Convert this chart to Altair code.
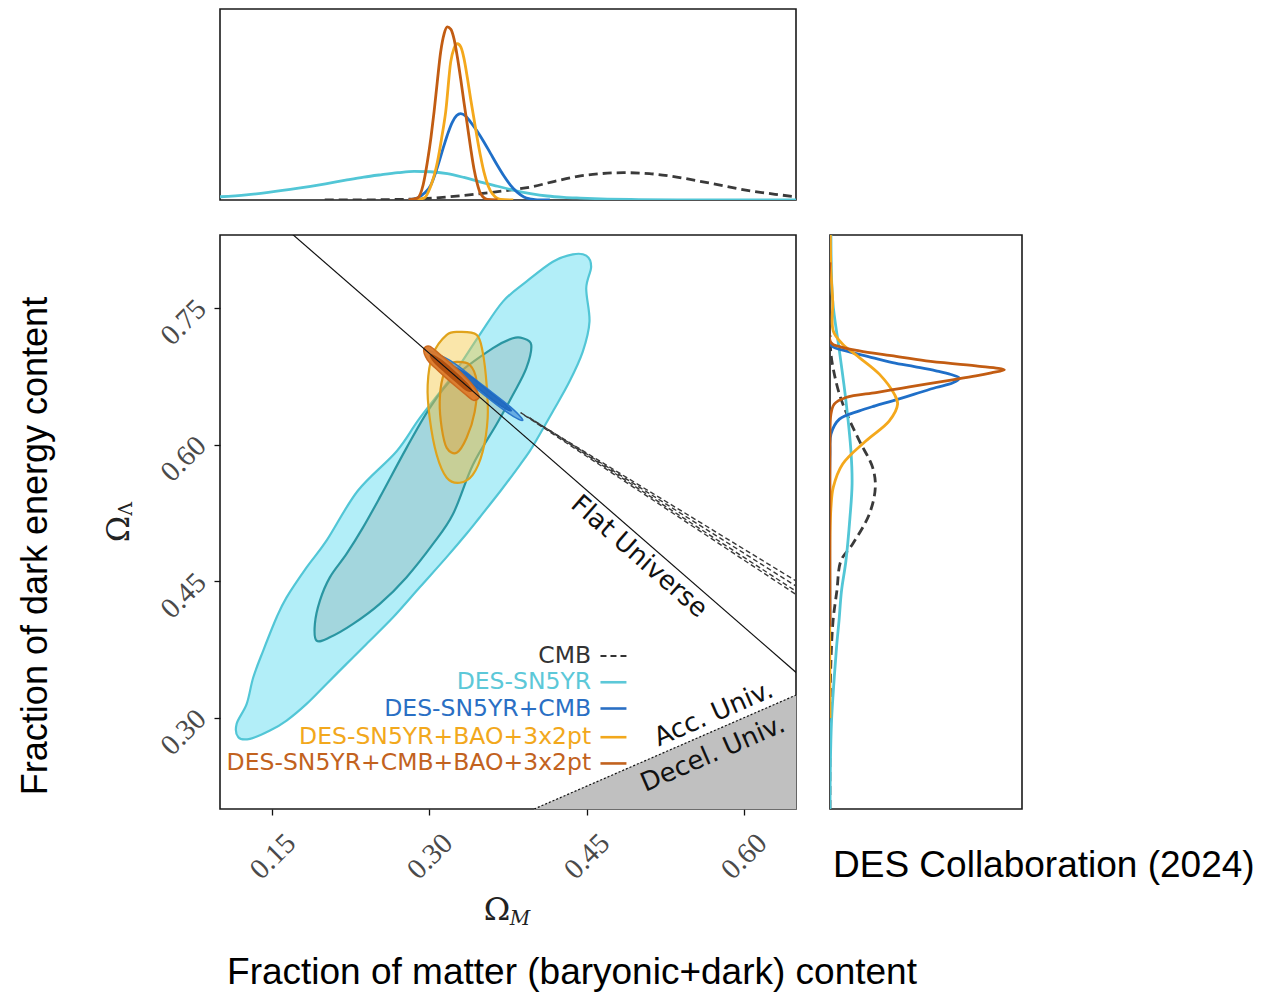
import altair as alt
import pandas as pd

# ------------------------------------------------------------------ data
X_TICKS = [0.15, 0.30, 0.45, 0.60]
Y_TICKS = [0.30, 0.45, 0.60, 0.75]
X_DOMAIN = [0.10, 0.65]
Y_DOMAIN = [0.20, 0.83]

# DES-SN5YR contours (Omega_M, Omega_Lambda)
SN_OUTER = [(0.4178, 0.8007), (0.4369, 0.8088), (0.4497, 0.8073), (0.4544, 0.7952), (0.4497, 0.7716),
            (0.4528, 0.7349), (0.4464, 0.7020), (0.4337, 0.6691), (0.4178, 0.6363), (0.4051, 0.6107),
            (0.3956, 0.5924), (0.3823, 0.5712), (0.3680, 0.5493), (0.3479, 0.5200), (0.3352, 0.5018),
            (0.3162, 0.4762), (0.2907, 0.4433), (0.2653, 0.4104), (0.2399, 0.3812), (0.2208, 0.3593),
            (0.2017, 0.3373), (0.1827, 0.3154), (0.1636, 0.2971), (0.1477, 0.2861), (0.1286, 0.2770),
            (0.1175, 0.2788), (0.1159, 0.2935), (0.1255, 0.3154), (0.1318, 0.3446), (0.1413, 0.3739),
            (0.1541, 0.4104), (0.1636, 0.4323), (0.1827, 0.4652), (0.2017, 0.4945), (0.2316, 0.5493),
            (0.2685, 0.5924), (0.2907, 0.6290), (0.3225, 0.6765), (0.3479, 0.7204), (0.3701, 0.7569),
            (0.3925, 0.7788)]
SN_INNER = [(0.3892, 0.7167), (0.3972, 0.7094), (0.3925, 0.6838), (0.3797, 0.6546), (0.3638, 0.6217),
            (0.3415, 0.5778), (0.3225, 0.5237), (0.3034, 0.4909), (0.2780, 0.4542), (0.2526, 0.4251),
            (0.2271, 0.4031), (0.2049, 0.3884), (0.1922, 0.3848), (0.1906, 0.4031), (0.1954, 0.4287),
            (0.2049, 0.4542), (0.2208, 0.4799), (0.2366, 0.5091), (0.2526, 0.5420), (0.2780, 0.5961),
            (0.3002, 0.6400), (0.3225, 0.6729), (0.3606, 0.7058), (0.3797, 0.7167)]
# DES-SN5YR+BAO+3x2pt
BAO_OUTER = [(0.3289, 0.7236), (0.3451, 0.7204), (0.3508, 0.7017), (0.3546, 0.6655), (0.3556, 0.6293),
             (0.3508, 0.5921), (0.3413, 0.5668), (0.3289, 0.5581), (0.3165, 0.5636), (0.3069, 0.5888),
             (0.3002, 0.6293), (0.2983, 0.6655), (0.3031, 0.6984), (0.3165, 0.7204)]
BAO_INNER = [(0.3260, 0.6907), (0.3384, 0.6875), (0.3451, 0.6688), (0.3432, 0.6359), (0.3355, 0.6074),
             (0.3260, 0.5910), (0.3165, 0.5964), (0.3117, 0.6184), (0.3098, 0.6469), (0.3126, 0.6732),
             (0.3193, 0.6875)]
# DES-SN5YR+CMB
CMB_SN_OUTER = [(0.300, 0.703), (0.320, 0.692), (0.340, 0.675), (0.360, 0.657), (0.375, 0.6435),
                (0.385, 0.633), (0.389, 0.6265), (0.380, 0.631), (0.365, 0.643), (0.345, 0.661),
                (0.325, 0.679), (0.310, 0.692)]
CMB_SN_INNER = [(0.315, 0.690), (0.335, 0.678), (0.355, 0.660), (0.372, 0.6445), (0.378, 0.637),
                (0.365, 0.645), (0.345, 0.663), (0.325, 0.680)]
# DES-SN5YR+CMB+BAO+3x2pt
ALL_OUTER = [(0.2945, 0.7045), (0.300, 0.708), (0.310, 0.699), (0.320, 0.6895), (0.330, 0.679),
             (0.340, 0.667), (0.345, 0.659), (0.3475, 0.652), (0.342, 0.6485), (0.335, 0.6545),
             (0.325, 0.664), (0.315, 0.674), (0.305, 0.6845), (0.298, 0.693)]
ALL_INNER = [(0.301, 0.6985), (0.310, 0.6935), (0.320, 0.684), (0.330, 0.6735), (0.337, 0.6655),
             (0.3405, 0.659), (0.335, 0.660), (0.325, 0.6695), (0.315, 0.6795), (0.305, 0.690)]
# CMB only (dashed, extends beyond the frame)
CMB_OUTER = [(0.387, 0.635), (0.70, 0.4152), (0.70, 0.3976)]
CMB_INNER = [(0.396, 0.629), (0.70, 0.4084), (0.70, 0.4016)]

FLAT_LINE = [(0.10, 0.90), (0.70, 0.30)]
ACC_LINE = [(0.40, 0.20), (0.65, 0.325)]
DECEL_REGION = [(0.40, 0.20), (0.65, 0.325), (0.65, 0.20)]

# marginal of Omega_M (top panel)
TOP_SN_X = [0.10, 0.125, 0.1462, 0.175, 0.2008, 0.22, 0.2373, 0.2535, 0.2700, 0.2853, 0.3010, 0.3171,
            0.333, 0.3489, 0.365, 0.3806, 0.3965, 0.4125, 0.4283, 0.4442, 0.47, 0.50, 0.55, 0.65]
TOP_SN_D = [0.017, 0.027, 0.040, 0.062, 0.085, 0.104, 0.120, 0.132, 0.143, 0.150, 0.148, 0.138,
            0.118, 0.094, 0.072, 0.051, 0.034, 0.021, 0.014, 0.010, 0.005, 0.002, 0.0, 0.0]
TOP_ALL_X = [0.280, 0.2885, 0.294, 0.298, 0.3015, 0.3044, 0.3075, 0.3107, 0.3140, 0.3171, 0.3203,
             0.3234, 0.3266, 0.3298, 0.333, 0.3362, 0.3394, 0.3425, 0.3457, 0.3489, 0.3553, 0.365]
TOP_ALL_D = [0.0, 0.01, 0.08, 0.199, 0.33, 0.461, 0.62, 0.775, 0.87, 0.906, 0.895,
             0.845, 0.75, 0.635, 0.51, 0.391, 0.27, 0.164, 0.085, 0.033, 0.003, 0.0]
TOP_BAO_X = [0.285, 0.2948, 0.301, 0.3076, 0.3115, 0.3155, 0.3203, 0.3235, 0.3267, 0.330, 0.333,
             0.3362, 0.3393, 0.3425, 0.3457, 0.3489, 0.352, 0.356, 0.360, 0.368, 0.38]
TOP_BAO_D = [0.0, 0.01, 0.07, 0.199, 0.32, 0.461, 0.723, 0.795, 0.818, 0.80, 0.74,
             0.64, 0.53, 0.425, 0.321, 0.226, 0.147, 0.075, 0.033, 0.003, 0.0]
TOP_CMBSN_X = [0.280, 0.2885, 0.295, 0.3012, 0.3075, 0.3139, 0.318, 0.3219, 0.326, 0.3298, 0.3345,
               0.3393, 0.3456, 0.352, 0.3584, 0.3648, 0.371, 0.3775, 0.384, 0.3902, 0.397, 0.403, 0.415]
TOP_CMBSN_D = [0.0, 0.01, 0.035, 0.077, 0.17, 0.286, 0.355, 0.408, 0.442, 0.452, 0.44,
               0.408, 0.36, 0.304, 0.243, 0.182, 0.127, 0.077, 0.04, 0.016, 0.005, 0.0, 0.0]
TOP_CMB_X = [0.20, 0.2263, 0.26, 0.285, 0.3489, 0.3831, 0.3966, 0.4196, 0.4442, 0.456, 0.4852,
             0.51, 0.529, 0.5653, 0.602, 0.63, 0.65]
TOP_CMB_D = [0.0, 0.0, 0.002, 0.005, 0.033, 0.057, 0.068, 0.098, 0.126, 0.134, 0.143,
             0.138, 0.126, 0.091, 0.052, 0.030, 0.017]

# marginal of Omega_Lambda (right panel)
R_SN_Y = [0.83, 0.7576, 0.7028, 0.648, 0.5932, 0.557, 0.52, 0.4725, 0.4397, 0.4068, 0.38, 0.341, 0.297, 0.25, 0.20]
R_SN_D = [0.005, 0.014, 0.049, 0.083, 0.109, 0.115, 0.104, 0.083, 0.06, 0.047, 0.035, 0.021, 0.008, 0.002, 0.0]
R_ALL_Y = [0.80, 0.7119, 0.7075, 0.7028, 0.6975, 0.6918, 0.6864, 0.682, 0.6787, 0.6754, 0.6708,
           0.6663, 0.6617, 0.6571, 0.6516, 0.6444, 0.6337, 0.60, 0.40]
R_ALL_D = [0.0, 0.005, 0.05, 0.153, 0.32, 0.50, 0.76, 0.908, 0.84, 0.76, 0.63,
           0.50, 0.37, 0.24, 0.083, 0.022, 0.005, 0.0, 0.0]
R_CMBSN_Y = [0.78, 0.7102, 0.7028, 0.6965, 0.69, 0.6855, 0.6809, 0.6769, 0.6729, 0.6678, 0.6626,
             0.6553, 0.648, 0.6425, 0.637, 0.6279, 0.6115, 0.59, 0.40]
R_CMBSN_D = [0.0, 0.0, 0.083, 0.20, 0.326, 0.44, 0.552, 0.63, 0.674, 0.64, 0.552,
             0.44, 0.326, 0.235, 0.153, 0.049, 0.005, 0.0, 0.0]
R_BAO_Y = [0.83, 0.79, 0.7576, 0.7247, 0.7102, 0.6955, 0.6773, 0.6553, 0.6444, 0.626, 0.6041,
           0.5786, 0.553, 0.531, 0.50, 0.30]
R_BAO_D = [0.002, 0.005, 0.014, 0.017, 0.066, 0.153, 0.257, 0.335, 0.352, 0.309, 0.188,
           0.066, 0.017, 0.005, 0.0, 0.0]
R_CMB_Y = [0.72, 0.6992, 0.68, 0.6553, 0.63, 0.6041, 0.5749, 0.553, 0.5238, 0.4909, 0.4725,
           0.4397, 0.4068, 0.363, 0.30, 0.20]
R_CMB_D = [0.0, 0.005, 0.02, 0.049, 0.095, 0.153, 0.222, 0.236, 0.205, 0.118, 0.057,
           0.036, 0.016, 0.005, 0.0, 0.0]

LEGEND_LABELS = ["CMB", "DES-SN5YR", "DES-SN5YR+CMB", "DES-SN5YR+BAO+3x2pt", "DES-SN5YR+CMB+BAO+3x2pt"]
LEGEND_COLORS = ["#333333", "#5cc8d8", "#2a6fc4", "#f2a81c", "#c2621e"]
LEGEND_Y = [0.3678, 0.3391, 0.3103, 0.2788, 0.2500]
LEGEND_TEXT_X = 0.4544
LEGEND_LINE_X = [0.4633, 0.4881]

C_CYAN = "#52c6d6"
C_BLUE = "#1f6fc8"
C_YEL = "#f4a81c"
C_ORG = "#c25c12"
C_DASH = "#3a3a3a"

# ------------------------------------------------------------------ scales / axes
XS = alt.Scale(domain=X_DOMAIN, nice=False, zero=False)
YS = alt.Scale(domain=Y_DOMAIN, nice=False, zero=False)
XAX = alt.Axis(values=X_TICKS, format=".2f", labelAngle=315, labelAlign="center", labelBaseline="middle",
               labelPadding=41, tickSize=6, tickColor="#111", tickWidth=1.3, domain=False, grid=False,
               labelFont="Liberation Serif", labelFontSize=29, labelColor="#4a4a4a", title=None,
               labelFlush=False, labelOverlap=False)
YAX = alt.Axis(values=Y_TICKS, format=".2f", labelAngle=315, labelAlign="center", labelBaseline="middle",
               labelPadding=31, labelOffset=14, tickSize=6, tickColor="#111", tickWidth=1.3, domain=False,
               grid=False, labelFont="Liberation Serif", labelFontSize=29, labelColor="#4a4a4a", title=None,
               labelFlush=False, labelOverlap=False)


def xenc():
    return alt.X("x:Q", scale=XS, axis=XAX)


def yenc():
    return alt.Y("y:Q", scale=YS, axis=YAX)


def poly(pts, fill, stroke, fop=1.0, sw=2.0, interp="cardinal-closed", dash=None, clip=False, sop=1.0):
    df = pd.DataFrame({"x": [p[0] for p in pts], "y": [p[1] for p in pts], "i": list(range(len(pts)))})
    kw = dict(fill=fill, fillOpacity=fop, stroke=stroke, strokeWidth=sw, strokeOpacity=sop,
              interpolate=interp, clip=clip)
    if dash:
        kw["strokeDash"] = dash
    return alt.Chart(df).mark_line(**kw).encode(x=xenc(), y=yenc(), order=alt.Order("i:Q"))


def ptext(txt, px, py, size, font="Liberation Sans", angle=0, align="center", style="normal", color="#000"):
    df = pd.DataFrame({"t": [txt]})
    return alt.Chart(df).mark_text(align=align, baseline="middle", font=font, fontSize=size, angle=angle,
                                   fontStyle=style, color=color).encode(
        x=alt.value(px), y=alt.value(py), text="t:N")


def dtext(txt, x, y, size, angle=0):
    df = pd.DataFrame({"x": [x], "y": [y], "t": [txt]})
    return alt.Chart(df).mark_text(align="center", baseline="middle", font="DejaVu Sans", fontSize=size,
                                   angle=angle, color="#111").encode(x=xenc(), y=yenc(), text="t:N")


# ------------------------------------------------------------------ main panel
layers = [
    poly(DECEL_REGION, "#c0c0c0", "#c0c0c0", fop=1.0, sw=0.5, interp="linear-closed"),
    poly(SN_OUTER, "#b2eef8", C_CYAN, fop=1.0, sw=2.2),
    poly(SN_INNER, "#a3d6dd", "#2a96a2", fop=1.0, sw=2.2),
    poly(BAO_OUTER, "#f5c842", "#e0a31c", fop=0.45, sw=2.2),
    poly(BAO_INNER, "#d99a40", "#d99418", fop=0.35, sw=2.2),
    poly(CMB_SN_OUTER, "#3f8ad6", "#2a78cc", fop=0.65, sw=1.5),
    poly(CMB_SN_INNER, "#1f68c0", "#1f68c0", fop=0.9, sw=1.5),
    poly(ALL_OUTER, "#dc7a2c", "#cc6a1e", fop=0.95, sw=1.5),
    poly(ALL_INNER, "#b45210", "#b45210", fop=1.0, sw=1.5),
    poly(CMB_OUTER, "white", C_DASH, fop=0.0, sw=1.4, interp="linear-closed", dash=[5, 3], clip=True),
    poly(CMB_INNER, "white", C_DASH, fop=0.0, sw=1.4, interp="linear-closed", dash=[5, 3], clip=True),
]

flat_df = pd.DataFrame({"x": [p[0] for p in FLAT_LINE], "y": [p[1] for p in FLAT_LINE]})
layers.append(alt.Chart(flat_df).mark_line(color="#111", strokeWidth=1.2, clip=True).encode(x=xenc(), y=yenc()))
acc_df = pd.DataFrame({"x": [p[0] for p in ACC_LINE], "y": [p[1] for p in ACC_LINE]})
layers.append(alt.Chart(acc_df).mark_line(color="#111", strokeWidth=1.2, strokeDash=[2, 2], clip=True)
              .encode(x=xenc(), y=yenc()))

layers += [
    dtext("Flat Universe", 0.5002, 0.4771, 26, angle=41),
    dtext("Acc. Univ.", 0.5714, 0.3045, 26, angle=336.5),
    dtext("Decel. Univ.", 0.5706, 0.2606, 26, angle=336.5),
]

leg_df = pd.DataFrame({"t": LEGEND_LABELS, "c": LEGEND_COLORS, "y": LEGEND_Y,
                       "x": [LEGEND_TEXT_X] * 5, "x0": [LEGEND_LINE_X[0]] * 5, "x1": [LEGEND_LINE_X[1]] * 5})
layers.append(alt.Chart(leg_df).mark_text(align="right", baseline="middle", font="DejaVu Sans", fontSize=23.5)
              .encode(x=xenc(), y=yenc(), text="t:N", color=alt.Color("c:N", scale=None)))
layers.append(alt.Chart(leg_df.iloc[1:]).mark_rule(strokeWidth=2.6)
              .encode(x=alt.X("x0:Q", scale=XS, axis=XAX), x2="x1:Q", y=yenc(), color=alt.Color("c:N", scale=None)))
layers.append(alt.Chart(leg_df.iloc[:1]).mark_rule(strokeWidth=2.0, strokeDash=[6, 4])
              .encode(x=alt.X("x0:Q", scale=XS, axis=XAX), x2="x1:Q", y=yenc(), color=alt.Color("c:N", scale=None)))

# axis symbols and outer captions (placed relative to the plot area)
layers += [
    ptext("Ω", 277, 675, 32, font="DejaVu Serif", color="#222"),
    ptext("M", 300, 684, 20, font="DejaVu Serif", style="italic", color="#222"),
    ptext("Ω", -101, 294, 32, font="DejaVu Serif", angle=270, color="#222"),
    ptext("Λ", -94, 274, 19, font="DejaVu Serif", angle=270, color="#222"),
    ptext("Fraction of dark energy content", -184, 311, 36, angle=270),
    ptext("Fraction of matter (baryonic+dark) content", 352, 738, 37),
]

main = alt.layer(*layers).properties(width=576, height=574)


# ------------------------------------------------------------------ top marginal
def top_line(xs, ds, color, dash=None):
    df = pd.DataFrame({"x": xs, "d": ds})
    kw = dict(color=color, strokeWidth=2.8, interpolate="monotone", clip=True)
    if dash:
        kw["strokeDash"] = dash
    return alt.Chart(df).mark_line(**kw).encode(
        x=alt.X("x:Q", scale=XS, axis=None),
        y=alt.Y("d:Q", scale=alt.Scale(domain=[0, 1], nice=False), axis=None))


top = alt.layer(
    top_line(TOP_CMB_X, TOP_CMB_D, C_DASH, dash=[9, 5]),
    top_line(TOP_SN_X, TOP_SN_D, C_CYAN),
    top_line(TOP_CMBSN_X, TOP_CMBSN_D, C_BLUE),
    top_line(TOP_BAO_X, TOP_BAO_D, C_YEL),
    top_line(TOP_ALL_X, TOP_ALL_D, C_ORG),
).properties(width=576, height=191)


# ------------------------------------------------------------------ right marginal
def right_line(ys, ds, color, dash=None):
    df = pd.DataFrame({"y": ys, "d": ds})
    kw = dict(color=color, strokeWidth=2.8, interpolate="catmull-rom", clip=True)
    if dash:
        kw["strokeDash"] = dash
    return alt.Chart(df).mark_line(**kw).encode(
        x=alt.X("d:Q", scale=alt.Scale(domain=[0, 1], nice=False), axis=None),
        y=alt.Y("y:Q", scale=YS, axis=None),
        order=alt.Order("y:Q"))


right = alt.layer(
    right_line(R_CMB_Y, R_CMB_D, C_DASH, dash=[9, 5]),
    right_line(R_SN_Y, R_SN_D, C_CYAN),
    right_line(R_CMBSN_Y, R_CMBSN_D, C_BLUE),
    right_line(R_BAO_Y, R_BAO_D, C_YEL),
    right_line(R_ALL_Y, R_ALL_D, C_ORG),
    ptext("DES Collaboration (2024)", 3, 631, 37, align="left"),
).properties(width=192, height=574)

blank = alt.Chart(pd.DataFrame({"a": [0]})).mark_point(opacity=0).encode(
    x=alt.X("a:Q", axis=None), y=alt.Y("a:Q", axis=None)
).properties(width=192, height=191, view=alt.ViewBackground(strokeOpacity=0))

chart = alt.concat(top, blank, main, right, columns=2, spacing={"row": 35, "column": 34}, bounds="flush") \
    .properties(padding={"left": 9, "top": 0, "right": 0, "bottom": 0}, background="white") \
    .configure_view(stroke="#1a1a1a", strokeWidth=1.6)

chart.save("out.html", embed_options={"renderer": "svg", "actions": False})
